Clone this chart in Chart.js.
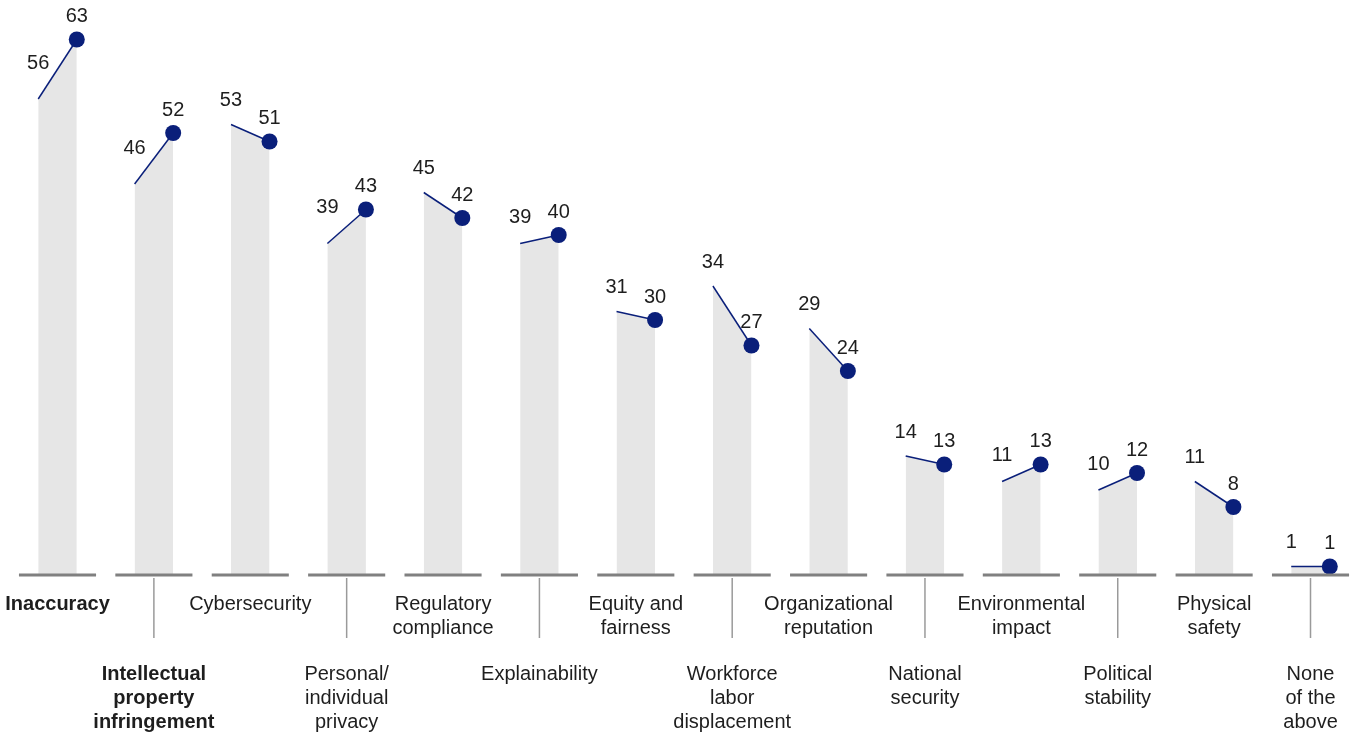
<!DOCTYPE html>
<html>
<head>
<meta charset="utf-8">
<script src="https://cdn.jsdelivr.net/npm/chart.js@4"></script>
<style>
  body { margin: 0; background: #fff; }
  canvas { display: block; }
</style>
</head>
<body>
<canvas id="myChart" width="1356" height="736"></canvas>
<script>
// categories, split into the lines they are printed on
var categories = [
    ['Inaccuracy'],
    ['Intellectual', 'property', 'infringement'],
    ['Cybersecurity'],
    ['Personal/', 'individual', 'privacy'],
    ['Regulatory', 'compliance'],
    ['Explainability'],
    ['Equity and', 'fairness'],
    ['Workforce', 'labor', 'displacement'],
    ['Organizational', 'reputation'],
    ['National', 'security'],
    ['Environmental', 'impact'],
    ['Political', 'stability'],
    ['Physical', 'safety'],
    ['None', 'of the', 'above']
];
var boldCategories = [0, 1];

var earlierValues = [56, 46, 53, 39, 45, 39, 31, 34, 29, 14, 11, 10, 11, 1];
var laterValues = [63, 52, 51, 43, 42, 40, 30, 27, 24, 13, 13, 12, 8, 1];

var navy = '#0a1f7a';
var fontFamily = '"Liberation Sans", Arial, sans-serif';

var datasets = [];
for (var i = 0; i < categories.length; i++) {
    // grey base line under each column
    datasets.push({
        data: [{ x: i - 0.4, y: 0 }, { x: i + 0.4, y: 0 }],
        borderColor: '#808080',
        borderWidth: 3,
        pointRadius: 0,
        fill: false,
        clip: false,
        order: 0
    });
    // trapezoid: earlier value on the left, later value (dot) on the right
    datasets.push({
        data: [{ x: i - 0.2, y: earlierValues[i] }, { x: i + 0.2, y: laterValues[i] }],
        borderColor: navy,
        borderWidth: 1.5,
        backgroundColor: '#e6e6e6',
        fill: 'origin',
        pointRadius: [0, 8],
        pointHoverRadius: [0, 8],
        pointBackgroundColor: navy,
        pointBorderWidth: 0,
        tension: 0,
        clip: false,
        order: 1
    });
}

var labelsPlugin = {
    id: 'labelsPlugin',
    afterDatasetsDraw: function(chart) {
        var ctx = chart.ctx;
        var xs = chart.scales.x;
        var ys = chart.scales.y;
        ctx.save();
        ctx.textAlign = 'center';
        ctx.textBaseline = 'middle';
        ctx.fillStyle = '#1e1e1e';
        ctx.font = '20px ' + fontFamily;

        for (var i = 0; i < categories.length; i++) {
            var rise = laterValues[i] - earlierValues[i];
            var up = rise >= 3 ? 36 : (rise > 0 ? 26 : 24);
            ctx.fillText(String(earlierValues[i]), xs.getPixelForValue(i - 0.2), ys.getPixelForValue(earlierValues[i]) - up);
            ctx.fillText(String(laterValues[i]), xs.getPixelForValue(i + 0.2), ys.getPixelForValue(laterValues[i]) - 23);
        }

        var base = ys.getPixelForValue(0);
        for (var j = 0; j < categories.length; j++) {
            var cx = xs.getPixelForValue(j);
            var top = j % 2 === 0 ? base + 29 : base + 99;
            if (j % 2 === 1) {
                ctx.strokeStyle = '#9a9a9a';
                ctx.lineWidth = 1.5;
                ctx.beginPath();
                ctx.moveTo(cx, base + 3);
                ctx.lineTo(cx, base + 63);
                ctx.stroke();
            }
            ctx.font = (boldCategories.indexOf(j) >= 0 ? 'bold ' : '') + '20px ' + fontFamily;
            for (var k = 0; k < categories[j].length; k++) {
                ctx.fillText(categories[j][k], cx, top + k * 24);
            }
        }
        ctx.restore();
    }
};

var myChart = new Chart(document.getElementById('myChart').getContext('2d'), {
    type: 'line',
    data: { datasets: datasets },
    options: {
        responsive: false,
        animation: false,
        events: [],
        layout: { autoPadding: false, padding: { top: 14, bottom: 161, left: 0, right: 0 } },
        plugins: { legend: { display: false }, tooltip: { enabled: false } },
        scales: {
            x: { type: 'linear', min: -0.5966, max: 13.472, display: false },
            y: { type: 'linear', min: 0, max: 66, display: false }
        }
    },
    plugins: [labelsPlugin]
});
</script>
</body>
</html>
